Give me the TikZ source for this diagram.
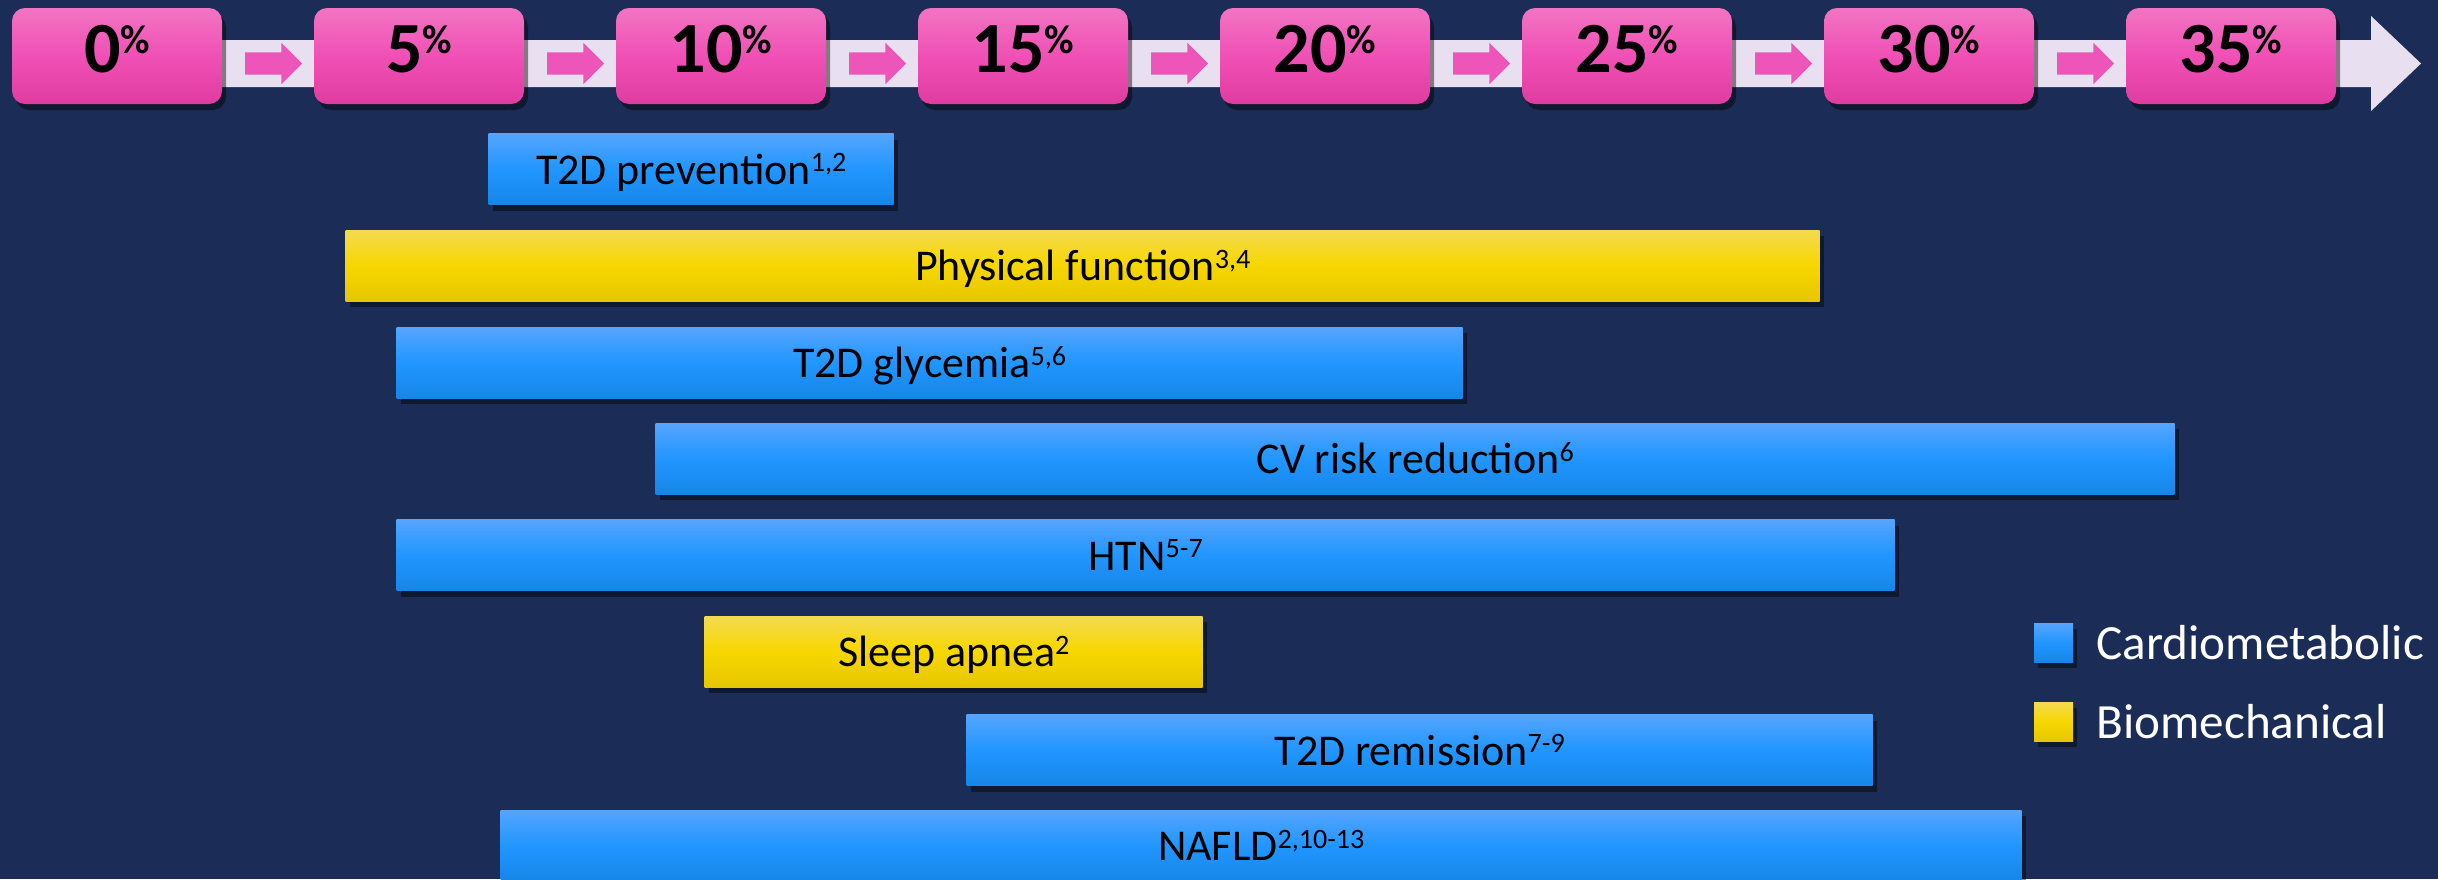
\documentclass[tikz,border=0pt]{standalone}
\usepackage{fontspec}
\setmainfont{Carlito}
\usetikzlibrary{positioning,calc,shapes.arrows,shadows}

\definecolor{navy}{HTML}{1B2D57}
\definecolor{lavender}{HTML}{E8E0F0}
\definecolor{pinktop}{HTML}{F274C3}
\definecolor{pinkmid}{HTML}{F050B5}
\definecolor{pinkbot}{HTML}{E03CA0}
\definecolor{pinkarr}{HTML}{EE55B8}
\definecolor{bluetop}{HTML}{55A5FF}
\definecolor{bluemid}{HTML}{2196FF}
\definecolor{bluebot}{HTML}{1686E8}
\definecolor{yeltop}{HTML}{F4DA50}
\definecolor{yelmid}{HTML}{F7D700}
\definecolor{yelbot}{HTML}{E6C600}

% percent sign and reference numbers
\newcommand{\pcsign}{\raisebox{5.5pt}{\fontsize{11.5}{12}\selectfont\%}}
\newcommand{\refs}[1]{\raisebox{3.5pt}{\fontsize{8}{8}\selectfont #1}}

\begin{document}
\begin{tikzpicture}[
    x=0.1mm, y=-0.1mm,
    node distance=9.06mm,
    shade/.style={drop shadow={shadow xshift=0.4mm, shadow yshift=-0.6mm, opacity=0.45, fill=black}},
    pct/.style={shade, rounded corners=1.3mm, minimum width=21mm, minimum height=9.6mm, inner sep=0pt,
        top color=pinktop, bottom color=pinkbot, middle color=pinkmid,
        font=\fontsize{20.5}{22}\selectfont\bfseries, text height=13pt, text depth=3.4pt},
    pinkarrow/.style={single arrow, fill=pinkarr, inner sep=1.05mm, single arrow head extend=0.95mm,
        minimum height=5.7mm, single arrow tip angle=90},
    bar/.style={shade, anchor=west, minimum height=7.1mm, inner sep=0pt,
        font=\fontsize{12.5}{14}\selectfont, text height=9pt, text depth=0.4pt},
    cardio/.style={bar, top color=bluetop, bottom color=bluebot, middle color=bluemid},
    biomech/.style={bar, top color=yeltop, bottom color=yelbot, middle color=yelmid},
    key/.style={shade, minimum size=3.9mm, inner sep=0pt},
    keytext/.style={text=white, font=\fontsize{14}{16}\selectfont, inner sep=0pt, anchor=west}
]
\fill[navy] (0,0) rectangle (2438,879);
\useasboundingbox (0,0) rectangle (2438,879);

% timeline band
\fill[lavender] (12,40) -- (2371,40) -- (2371,16) -- (2421,63.5) -- (2371,111) -- (2371,87) -- (12,87) -- cycle;

\node[pct] (p0) at (117,56) {0\pcsign};
\node[pct, right=of p0] (p5) {5\pcsign};
\node[pct, right=of p5] (p10) {10\pcsign};
\node[pct, right=of p10] (p15) {15\pcsign};
\node[pct, right=of p15] (p20) {20\pcsign};
\node[pct, right=of p20] (p25) {25\pcsign};
\node[pct, right=of p25] (p30) {30\pcsign};
\node[pct, right=of p30] (p35) {35\pcsign};

\foreach \a/\b in {p0/p5, p5/p10, p10/p15, p15/p20, p20/p25, p25/p30, p30/p35}
  \node[pinkarrow] (arr-\a) at ($(\a.east)!0.5!(\b.west) + (0,7.5)$) {};

% benefit bars
\node[cardio, minimum width=40.5mm] (prev) at (488,169) {T2D prevention\refs{1,2}};
\node[biomech, minimum width=147.4mm] (phys) at (345,265.5) {Physical function\refs{3,4}};
\node[cardio, minimum width=106.6mm] (glyc) at (396,362.5) {T2D glycemia\refs{5,6}};
\node[cardio, minimum width=151.9mm] (cvrisk) at (655,458.5) {CV risk reduction\refs{6}};
\node[cardio, minimum width=149.8mm] (htn) at (396,555) {HTN\refs{5-7}};
\node[biomech, minimum width=49.8mm] (sleep) at (704,651.5) {Sleep apnea\refs{2}};
\node[cardio, minimum width=90.6mm] (remis) at (966,750) {T2D remission\refs{7-9}};
\node[cardio, minimum width=152.1mm] (nafld) at (500,845.5) {NAFLD\refs{2,10-13}};

% legend
\node[key, top color=bluetop, bottom color=bluebot, middle color=bluemid] (keycm) at (2053.5,642.5) {};
\node[key, top color=yeltop, bottom color=yelbot, middle color=yelmid, below=3.9mm of keycm] (keybm) {};
\node[keytext, right=2.2mm of keycm] (txtcm) {Cardiometabolic};
\node[keytext, right=2.2mm of keybm] (txtbm) {Biomechanical};
\end{tikzpicture}
\end{document}
